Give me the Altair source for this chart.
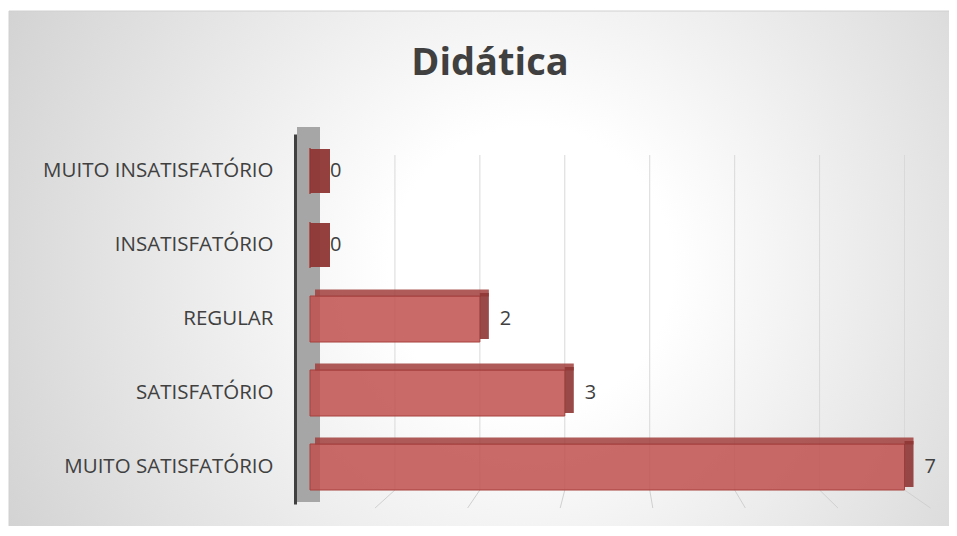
import altair as alt
import pandas as pd

categories = ["MUITO INSATISFATÓRIO", "INSATISFATÓRIO", "REGULAR", "SATISFATÓRIO", "MUITO SATISFATÓRIO"]
values = [0, 0, 2, 3, 7]
grid_values = [1, 2, 3, 4, 5, 6, 7]
title_text = "Didática"

df = pd.DataFrame({"cat": categories, "value": values})
gdf = pd.DataFrame({"g": grid_values})

W, H = 620, 370
FONT = "Open Sans"
TXT = "#404040"

xs = alt.Scale(domain=[0, 7.3], nice=False, zero=True)
ys = alt.Scale(domain=categories, paddingInner=0.38, paddingOuter=0.19)

one = pd.DataFrame({"t": [title_text]})

bg = alt.Chart(one).mark_rect(
    color=alt.Gradient(
        gradient="radial",
        stops=[alt.GradientStop(color="#ffffff", offset=0),
               alt.GradientStop(color="#ffffff", offset=0.2),
               alt.GradientStop(color="#c6c6c6", offset=1)],
        x1=0.55, y1=0.5, r1=0, x2=0.55, y2=0.5, r2=0.75),
    stroke="#d0d0d0", strokeWidth=1,
).encode(x=alt.value(-301), x2=alt.value(647), y=alt.value(-123), y2=alt.value(394))

title = alt.Chart(one).mark_text(font=FONT, fontSize=38, fontWeight="bold", color=TXT,
                                 align="center", baseline="middle").encode(
    x=alt.value(180), y=alt.value(-70), text="t:N")

wall = alt.Chart(one).mark_rect(color="#a6a6a6").encode(
    x=alt.value(-13), x2=alt.value(10), y=alt.value(-7), y2=alt.value(H - 2))

grid = alt.Chart(gdf).mark_rule(color="#d9d9d9", strokeWidth=1).encode(
    x=alt.X("g:Q", scale=xs, axis=None), y=alt.value(21), y2=alt.value(H - 14))

# perspective floor lines under the gridlines
floor = alt.Chart(gdf).transform_calculate(g2="datum.g + (datum.g - 3.6) * 0.09").mark_rule(
    color="#d0d0d0", strokeWidth=1).encode(
    x=alt.X("g:Q", scale=xs, axis=None), x2="g2:Q", y=alt.value(H - 14), y2=alt.value(H + 4))

base = alt.Chart(df)
Y = alt.Y("cat:N", scale=ys, sort=categories, title=None)

front = base.mark_bar(height=46, fill="#c0504d", fillOpacity=0.85, stroke="#a8403d", strokeWidth=1).encode(
    x=alt.X("value:Q", scale=xs, axis=None),
    y=alt.Y("cat:N", scale=ys, sort=categories, title=None,
            axis=alt.Axis(ticks=False, offset=15, domainColor="#404040", domainWidth=3,
                          labelFont=FONT, labelFontSize=20.5, labelColor=TXT, labelPadding=22,
                          labelLimit=400, zindex=2, grid=False)),
)

top = base.transform_filter("datum.value > 0").mark_bar(
    height=7, yOffset=-26, xOffset=9, x2Offset=5, fill="#a03e3c", fillOpacity=0.85).encode(
    x=alt.X("value:Q", scale=xs, axis=None), x2=alt.X2(datum=0), y=Y,
)

side = base.transform_filter("datum.value > 0").mark_bar(
    height=46, yOffset=-3, fill="#8e3634", fillOpacity=0.9, x2Offset=9).encode(
    x=alt.X("value:Q", scale=xs, axis=None), x2=alt.X2("value:Q"), y=Y,
)

zero = base.transform_filter("datum.value == 0").mark_bar(
    height=44, fill="#8e3634", fillOpacity=0.95, x2Offset=20).encode(
    x=alt.X("value:Q", scale=xs, axis=None), x2=alt.X2("value:Q"), y=Y,
)

labels = base.mark_text(align="left", baseline="middle", dx=20, font=FONT, fontSize=20, color=TXT).encode(
    x=alt.X("value:Q", scale=xs, axis=None), y=Y, text="value:Q",
)

chart = alt.layer(bg, title, wall, grid, floor, front, top, side, zero, labels).properties(
    width=W, height=H,
    autosize=alt.AutoSizeParams(type="none"),
    padding={"left": 302, "top": 126, "right": 19, "bottom": 22},
).configure_view(stroke=None).configure(background="#ffffff")

chart.save("out.html", embed_options={"renderer": "svg", "actions": False})
